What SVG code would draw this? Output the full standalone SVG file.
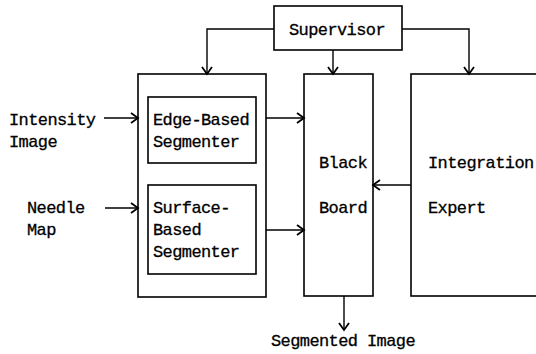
<svg xmlns="http://www.w3.org/2000/svg" width="536" height="354" viewBox="0 0 536 354">
<style>
.box{fill:none;stroke:#000;stroke-width:1.6}
.ln{fill:none;stroke:#000;stroke-width:1.4;marker-end:url(#ah)}
text{font-family:"Liberation Mono","DejaVu Sans Mono",monospace;font-size:17px;letter-spacing:-0.6px;fill:#000;stroke:#000;stroke-width:0.3}
</style>
<defs>
<marker id="ah" markerWidth="12" markerHeight="12" refX="10" refY="6" orient="auto" markerUnits="userSpaceOnUse">
<path d="M3,1 L10,6 L3,11" fill="none" stroke="#000" stroke-width="1.8"/>
</marker>
</defs>
<rect width="536" height="354" fill="#fff"/>
<g id="supervisor"><rect class="box" x="274" y="6" width="128" height="44"/><text x="289" y="35">Supervisor</text></g>
<g id="segmenters"><rect class="box" x="138" y="74" width="128" height="223"/></g>
<g id="edge"><rect class="box" x="148" y="97" width="108" height="66"/><text x="153" y="125">Edge-Based</text><text x="153" y="147">Segmenter</text></g>
<g id="surface"><rect class="box" x="148" y="185" width="108" height="89"/><text x="153" y="213">Surface-</text><text x="153" y="235">Based</text><text x="153" y="257">Segmenter</text></g>
<g id="blackboard"><rect class="box" x="304" y="74" width="69" height="222"/><text x="319" y="168">Black</text><text x="319" y="213">Board</text></g>
<g id="expert"><rect class="box" x="411" y="74" width="130" height="222"/><text x="428" y="168">Integration</text><text x="428" y="213">Expert</text></g>
<g id="labels"><text x="9" y="125">Intensity</text><text x="9" y="147">Image</text><text x="27" y="213">Needle</text><text x="27" y="235">Map</text><text x="271" y="346">Segmented Image</text></g>
<g id="connectors">
<path class="ln" d="M274,29 H207 V74"/>
<path class="ln" d="M402,29 H469 V74"/>
<path class="ln" d="M333,50 V74"/>
<path class="ln" d="M104,118 H138"/>
<path class="ln" d="M105,208 H138"/>
<path class="ln" d="M266,118 H304"/>
<path class="ln" d="M266,230 H304"/>
<path class="ln" d="M411,185 H373"/>
<path class="ln" d="M344,296 V330"/>
</g>
</svg>
